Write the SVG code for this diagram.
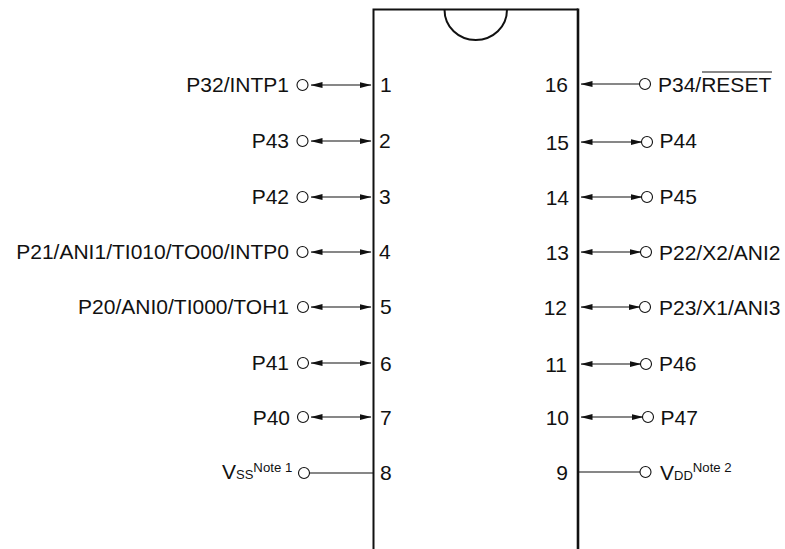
<svg xmlns="http://www.w3.org/2000/svg" width="785" height="549" viewBox="0 0 785 549">
<style>
text{font-family:"Liberation Sans",Arial,sans-serif;font-size:21px;fill:#111}
.l{text-anchor:end}
.s{font-size:13px}
.n{font-size:13.2px}
.w{fill:none;stroke:#111;stroke-width:1.2}
.p{fill:#fff;stroke:#111;stroke-width:1.1}
.b{fill:none;stroke:#111;stroke-width:2}
</style>
<defs>
<marker id="a" markerUnits="userSpaceOnUse" markerWidth="12" markerHeight="8" refX="11.500" refY="4" orient="auto-start-reverse"><path d="M0 1L12 4L0 7z" fill="#111"/></marker>
</defs>
<g id="package">
<path class="b" d="M373.500 549V9.500H578"/>
<path class="b" d="M578 8.500V549" style="stroke-width:2.600"/>
<path class="b" d="M444.500 9.500C444.500 27 458.500 40 475.750 40S507 27 507 9.500"/>
</g>
<g id="connectors">
<path class="w" d="M311 85H371" marker-start="url(#a)" marker-end="url(#a)"/>
<path class="w" d="M311 141H371" marker-start="url(#a)" marker-end="url(#a)"/>
<path class="w" d="M311 197H371" marker-start="url(#a)" marker-end="url(#a)"/>
<path class="w" d="M311 252H371" marker-start="url(#a)" marker-end="url(#a)"/>
<path class="w" d="M311 307H371" marker-start="url(#a)" marker-end="url(#a)"/>
<path class="w" d="M311 363H371" marker-start="url(#a)" marker-end="url(#a)"/>
<path class="w" d="M311 417H371" marker-start="url(#a)" marker-end="url(#a)"/>
<path class="w" d="M309 473H373"/>
<path class="w" d="M581 84H640" marker-start="url(#a)"/>
<path class="w" d="M581 142H642" marker-start="url(#a)" marker-end="url(#a)"/>
<path class="w" d="M581 197H642" marker-start="url(#a)" marker-end="url(#a)"/>
<path class="w" d="M581 252H641" marker-start="url(#a)" marker-end="url(#a)"/>
<path class="w" d="M581 307H640" marker-start="url(#a)" marker-end="url(#a)"/>
<path class="w" d="M581 364H641" marker-start="url(#a)" marker-end="url(#a)"/>
<path class="w" d="M581 417H643" marker-start="url(#a)" marker-end="url(#a)"/>
<path class="w" d="M579 472H640"/>
</g>
<g id="pin1"><circle class="p" cx="302.500" cy="85" r="5.500"/><text class="l" x="289" y="92">P32/INTP1</text><text x="380" y="92">1</text></g>
<g id="pin2"><circle class="p" cx="302.500" cy="141" r="5.500"/><text class="l" x="289" y="148">P43</text><text x="379" y="148">2</text></g>
<g id="pin3"><circle class="p" cx="302.500" cy="197" r="5.500"/><text class="l" x="289" y="204">P42</text><text x="379" y="204">3</text></g>
<g id="pin4"><circle class="p" cx="302.500" cy="252" r="5.500"/><text class="l" x="289" y="259">P21/ANI1/TI010/TO00/INTP0</text><text x="379" y="259">4</text></g>
<g id="pin5"><circle class="p" cx="303" cy="307" r="5.500"/><text class="l" x="289" y="314">P20/ANI0/TI000/TOH1</text><text x="380" y="314">5</text></g>
<g id="pin6"><circle class="p" cx="303" cy="363" r="5.500"/><text class="l" x="289" y="370">P41</text><text x="380" y="371">6</text></g>
<g id="pin7"><circle class="p" cx="303" cy="417" r="5.500"/><text class="l" x="290" y="425">P40</text><text x="380" y="425">7</text></g>
<g id="pin8"><circle class="p" cx="304" cy="473" r="5.500"/><text x="222" y="479">V<tspan class="s">SS</tspan><tspan class="n" dy="-7">Note 1</tspan></text><text x="380" y="480">8</text></g>
<g id="pin16"><circle class="p" cx="645" cy="84" r="5.500"/><text x="658" y="92">P34/RESET</text><path d="M702 72H772" stroke="#111" stroke-width="1.200"/><text class="l" x="568" y="92">16</text></g>
<g id="pin15"><circle class="p" cx="647" cy="142" r="5.500"/><text x="659.500" y="148">P44</text><text class="l" x="569" y="150">15</text></g>
<g id="pin14"><circle class="p" cx="647" cy="197" r="5.500"/><text x="659.500" y="204">P45</text><text class="l" x="569" y="205">14</text></g>
<g id="pin13"><circle class="p" cx="646" cy="252" r="5.500"/><text x="659" y="260">P22/X2/ANI2</text><text class="l" x="569" y="260">13</text></g>
<g id="pin12"><circle class="p" cx="645" cy="307" r="5.500"/><text x="659" y="315">P23/X1/ANI3</text><text class="l" x="567" y="315">12</text></g>
<g id="pin11"><circle class="p" cx="646" cy="364" r="5.500"/><text x="659" y="371">P46</text><text class="l" x="567" y="372">11</text></g>
<g id="pin10"><circle class="p" cx="648" cy="417" r="5.500"/><text x="660.500" y="425">P47</text><text class="l" x="569" y="425">10</text></g>
<g id="pin9"><circle class="p" cx="645.500" cy="472" r="5.500"/><text x="660" y="480">V<tspan class="s">DD</tspan><tspan class="n" dy="-8">Note 2</tspan></text><text class="l" x="568" y="480">9</text></g>
</svg>
